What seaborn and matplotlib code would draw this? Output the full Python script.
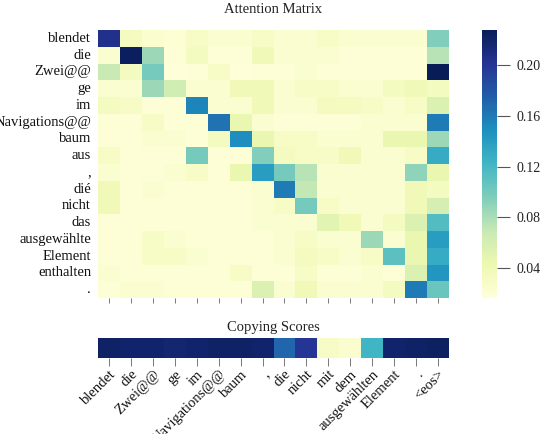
import numpy as np
import pandas as pd
import matplotlib
matplotlib.use("Agg")
import matplotlib.pyplot as plt
import seaborn as sns

sns.set_theme(style="white")
plt.rcParams['font.family'] = ['Liberation Serif', 'DejaVu Serif']
plt.rcParams['text.color'] = '#222222'
plt.rcParams['xtick.color'] = '#444444'
plt.rcParams['ytick.color'] = '#444444'

row_labels = ["blendet", "die", "Zwei@@", "ge", "im", "Navigations@@", "baum", "aus",
              ",", "dié", "nicht", "das", "ausgewählte", "Element", "enthalten", "."]
col_labels = ["blendet", "die", "Zwei@@", "ge", "im", "Navigations@@", "baum", ",",
              "die", "nicht", "mit", "dem", "ausgewählten", "Element", ".", "<eos>"]

row_blendet = [0.205, 0.033, 0.024, 0.020, 0.028, 0.023, 0.023, 0.028, 0.023, 0.023, 0.028, 0.023, 0.023, 0.023, 0.023, 0.095]
row_die = [0.023, 0.225, 0.085, 0.019, 0.033, 0.019, 0.019, 0.038, 0.023, 0.023, 0.023, 0.019, 0.019, 0.019, 0.019, 0.075]
row_zwei = [0.068, 0.033, 0.100, 0.017, 0.019, 0.028, 0.017, 0.019, 0.019, 0.023, 0.019, 0.019, 0.019, 0.019, 0.019, 0.228]
row_ge = [0.023, 0.023, 0.085, 0.063, 0.023, 0.023, 0.038, 0.038, 0.023, 0.028, 0.028, 0.023, 0.023, 0.033, 0.038, 0.033]
row_im = [0.033, 0.028, 0.019, 0.019, 0.155, 0.023, 0.023, 0.038, 0.023, 0.023, 0.033, 0.033, 0.028, 0.023, 0.028, 0.055]
row_navi = [0.019, 0.019, 0.028, 0.019, 0.019, 0.165, 0.045, 0.023, 0.019, 0.019, 0.019, 0.019, 0.023, 0.023, 0.023, 0.160]
row_baum = [0.019, 0.019, 0.023, 0.023, 0.019, 0.033, 0.150, 0.045, 0.028, 0.028, 0.023, 0.023, 0.023, 0.045, 0.045, 0.085]
row_aus = [0.028, 0.019, 0.019, 0.019, 0.100, 0.019, 0.019, 0.095, 0.033, 0.028, 0.028, 0.038, 0.023, 0.023, 0.028, 0.130]
row_comma = [0.023, 0.019, 0.019, 0.023, 0.028, 0.019, 0.045, 0.140, 0.100, 0.075, 0.023, 0.023, 0.023, 0.023, 0.090, 0.045]
row_die2 = [0.038, 0.019, 0.023, 0.019, 0.019, 0.019, 0.019, 0.023, 0.160, 0.070, 0.023, 0.023, 0.023, 0.023, 0.038, 0.033]
row_nicht = [0.038, 0.019, 0.019, 0.019, 0.019, 0.019, 0.019, 0.023, 0.028, 0.100, 0.028, 0.023, 0.023, 0.023, 0.038, 0.060]
row_das = [0.019, 0.019, 0.019, 0.019, 0.019, 0.019, 0.019, 0.023, 0.023, 0.023, 0.050, 0.038, 0.023, 0.033, 0.055, 0.115]
row_ausgew = [0.019, 0.019, 0.028, 0.023, 0.019, 0.019, 0.019, 0.019, 0.023, 0.028, 0.023, 0.023, 0.085, 0.023, 0.045, 0.140]
row_element = [0.019, 0.019, 0.028, 0.028, 0.023, 0.019, 0.019, 0.019, 0.023, 0.033, 0.028, 0.023, 0.028, 0.110, 0.045, 0.130]
row_enthalten = [0.023, 0.019, 0.019, 0.019, 0.019, 0.019, 0.028, 0.019, 0.019, 0.028, 0.019, 0.019, 0.023, 0.019, 0.055, 0.145]
row_period = [0.019, 0.023, 0.023, 0.019, 0.019, 0.019, 0.019, 0.055, 0.023, 0.038, 0.023, 0.023, 0.023, 0.033, 0.160, 0.105]

copy_scores = [0.97, 0.96, 0.96, 0.95, 0.96, 0.97, 0.97, 0.96, 0.73, 0.87, 0.06, 0.03, 0.50, 0.96, 0.97, 0.98]

attn = pd.DataFrame([row_blendet, row_die, row_zwei, row_ge, row_im, row_navi, row_baum, row_aus,
                     row_comma, row_die2, row_nicht, row_das, row_ausgew, row_element, row_enthalten,
                     row_period], index=row_labels, columns=col_labels)
copy_df = pd.DataFrame([copy_scores], columns=col_labels)

fig = plt.figure(figsize=(5.53, 4.34), dpi=100)
ax = fig.add_axes([98/553, 1-298/434, 351/553, 268/434])
cax = fig.add_axes([482/553, 1-298/434, 15/553, 268/434])
bx = fig.add_axes([98/553, 1-358/434, 351/553, 20/434])

sns.heatmap(attn, ax=ax, cmap="YlGnBu", vmin=0.016, vmax=0.228, cbar_ax=cax,
            xticklabels=False, yticklabels=True)
ax.set_xticks(np.arange(len(col_labels)) + 0.5)
ax.set_xticklabels([])
ax.tick_params(axis='x', bottom=True, length=3.5, width=0.7, color='#777777')
ax.tick_params(axis='y', left=False, length=0, pad=5, labelsize=10.5, labelcolor='#111111')
ax.set_title("Attention Matrix", fontsize=10.5, pad=12, color='#222222')

cax.set_yticks([0.04, 0.08, 0.12, 0.16, 0.20])
cax.set_yticklabels(["0.04", "0.08", "0.12", "0.16", "0.20"])
cax.tick_params(axis='y', right=True, length=9, width=0.8, pad=5, labelsize=10, color='#555555', labelcolor='#222222')
for s in cax.spines.values():
    s.set_visible(False)

sns.heatmap(copy_df, ax=bx, cmap="YlGnBu", vmin=0.0, vmax=1.0, cbar=False,
            xticklabels=col_labels, yticklabels=False)
bx.tick_params(axis='x', bottom=True, length=6, width=0.7, pad=1, labelsize=10.5, color='#777777', labelcolor='#111111')
plt.setp(bx.get_xticklabels(), rotation=45, ha='right', rotation_mode='anchor')
bx.set_title("Copying Scores", fontsize=10.5, pad=5, color='#222222')
bx.set_xlabel("")
ax.set_xlabel("")

fig.savefig("out.png", dpi=100)
